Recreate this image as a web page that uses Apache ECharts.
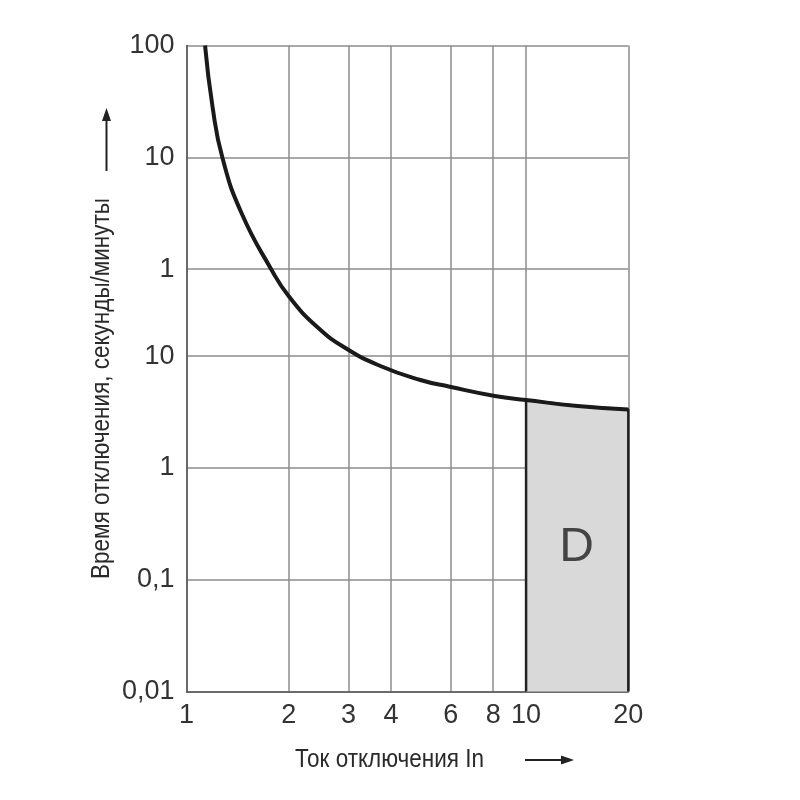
<!DOCTYPE html>
<html><head><meta charset="utf-8">
<script src="https://cdn.jsdelivr.net/npm/echarts@6/dist/echarts.min.js"></script>
<style>html,body{margin:0;padding:0;background:#fff}#c{width:800px;height:800px}</style>
</head><body><div id="c"></div>
<script>
// Tick values and labels
const xTicks = [1, 2, 3, 4, 6, 8, 10, 20];
const yTicks = [0.01, 0.1, 1, 10, 60, 600, 6000];          // seconds (upper part shown in minutes)
const yTickLabels = ['0,01', '0,1', '1', '10', '1', '10', '100'];
// Tripping curve (current multiple of In, time in seconds)
const curveCurrent = [1.134, 1.193, 1.277, 1.453, 1.781, 2.006, 2.422, 2.954, 3.723, 4.885, 5.96, 8.09, 10.0, 14.19, 20.0];
const curveTime = [6000, 1701, 588, 189.4, 58.9, 34.0, 18.3, 11.7, 8.16, 6.11, 5.32, 4.40, 4.05, 3.58, 3.33];
// Zone D (instantaneous trip)
const zoneCurrent = [10, 10, 14.19, 20, 20];
const zoneTime = [0.01, 4.05, 3.58, 3.33, 0.01];
const zoneName = 'D';
const zoneNameAt = [14.09, 0.194];
const xTitle = 'Ток отключения In';
const yTitle = 'Время отключения, секунды/минуты';

const SANS = "'Liberation Sans',Arial,Helvetica,sans-serif";

function yLabel(v) {
  for (let i = 0; i < yTicks.length; i++) {
    if (Math.abs(Math.log10(v) - Math.log10(yTicks[i])) < 1e-6) return yTickLabels[i];
  }
  return '';
}

const chart = echarts.init(document.getElementById('c'), null, {renderer: 'canvas'});
chart.setOption({
  animation: false,
  backgroundColor: '#fff',
  grid: {left: 186.5, right: 171.7, top: 45.5, bottom: 108.5, containLabel: false},
  xAxis: {
    type: 'log', logBase: 10, min: 1, max: 20,
    axisLine: {show: true, onZero: false, lineStyle: {color: '#555', width: 1.5}},
    axisTick: {show: false, customValues: xTicks},
    axisLabel: {customValues: xTicks, formatter: v => String(Math.round(v)), fontSize: 27, fontFamily: SANS, color: '#333', margin: 11, hideOverlap: false},
    splitLine: {show: true, lineStyle: {color: '#8c8c8c', width: 1.5}},
    minorSplitLine: {show: false}
  },
  yAxis: {
    type: 'log', logBase: 10, min: 0.01, max: 6000,
    axisLine: {show: true, onZero: false, lineStyle: {color: '#555', width: 1.5}},
    axisTick: {show: false, customValues: yTicks},
    axisLabel: {customValues: yTicks, formatter: yLabel, fontSize: 27, fontFamily: SANS, color: '#333', margin: 12, hideOverlap: false},
    splitLine: {show: true, lineStyle: {color: '#8c8c8c', width: 1.5}},
    minorSplitLine: {show: false}
  },
  series: [
    {
      type: 'line', name: 'zone',
      data: zoneCurrent.map((x, i) => [x, zoneTime[i]]),
      symbol: 'none', smooth: false, silent: true, z: 2,
      lineStyle: {color: '#222', width: 2.5},
      areaStyle: {color: '#d9d9d9', opacity: 1, origin: 'start'}
    },
    {
      type: 'line', name: 'curve',
      data: curveCurrent.map((x, i) => [x, curveTime[i]]),
      symbol: 'none', smooth: 0.5, silent: true, z: 3,
      lineStyle: {color: '#1a1a1a', width: 4}
    },
    {
      type: 'scatter', name: 'label',
      data: [zoneNameAt], symbolSize: 0, silent: true, z: 4,
      label: {show: true, position: 'inside', formatter: zoneName, fontSize: 48, fontFamily: SANS, color: '#1e1e1e'}
    }
  ],
  graphic: [
    {type: 'text', x: 102, y: 388.5, rotation: Math.PI / 2, scaleX: 0.865,
     style: {text: yTitle, font: '26px ' + SANS, fill: '#2a2a2a', textAlign: 'center', textVerticalAlign: 'middle'}},
    {type: 'line', shape: {x1: 106.5, y1: 171, x2: 106.5, y2: 118}, style: {stroke: '#222', lineWidth: 2}},
    {type: 'polygon', shape: {points: [[106.5, 108], [102, 121], [111, 121]]}, style: {fill: '#222'}},
    {type: 'text', x: 389.5, y: 760, scaleX: 0.865,
     style: {text: xTitle, font: '26px ' + SANS, fill: '#2a2a2a', textAlign: 'center', textVerticalAlign: 'middle'}},
    {type: 'line', shape: {x1: 525, y1: 760, x2: 565, y2: 760}, style: {stroke: '#222', lineWidth: 2}},
    {type: 'polygon', shape: {points: [[574, 760], [561, 755.5], [561, 764.5]]}, style: {fill: '#222'}}
  ]
});
</script></body></html>
